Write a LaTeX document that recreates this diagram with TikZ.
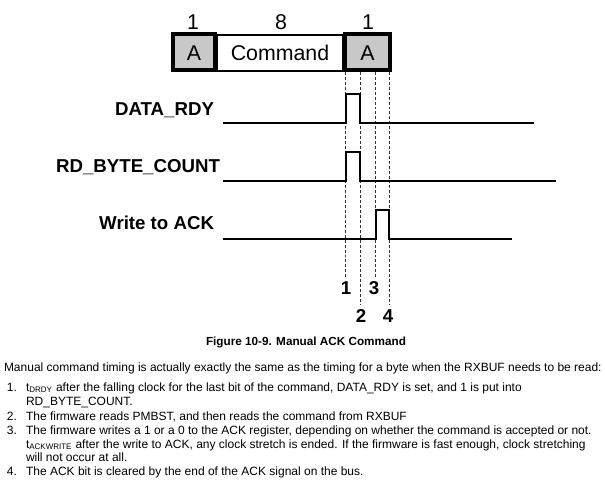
\documentclass[tikz,border=0pt]{standalone}
\usepackage{fontspec}
\setmainfont{Liberation Sans}
\begin{document}
\begin{tikzpicture}[x=0.75pt,y=-0.75pt,
  every node/.style={inner sep=0pt,outer sep=0pt},
  thickbox/.style={draw=black,line width=3pt,fill=boxgray},
  thinbox/.style={draw=black,line width=0.8pt,fill=white},
  boxtext/.style={font=\fontsize{16}{18}\selectfont},
  sig/.style={draw=black,line width=1.5pt},
  guide/.style={draw=black!80,line width=0.6pt,dash pattern=on 2.2pt off 1.5pt},
  siglabel/.style={font=\fontsize{14}{16}\selectfont\bfseries,anchor=base east},
  marklabel/.style={font=\fontsize{14}{16}\selectfont\bfseries,anchor=base},
  caption/.style={font=\fontsize{8.8}{10}\selectfont\bfseries,anchor=base},
  body/.style={font=\fontsize{9}{11}\selectfont,anchor=base west}]
\definecolor{boxgray}{RGB}{200,200,200}
\useasboundingbox (0,0) rectangle (605,480);
% frame boxes
\draw[thinbox] (217,35) rectangle (343,71);
\node[boxtext] (cmd) at (280,53) {Command};
\draw[thickbox] (173,34) rectangle (215,70);
\node[boxtext] (aL) at (194,53) {A};
\draw[thickbox] (345,34) rectangle (390,70);
\node[boxtext] (aR) at (367.5,53) {A};
\node[boxtext,anchor=base] (n1) at (193,29) {1};
\node[boxtext,anchor=base] (n8) at (281,29) {8};
\node[boxtext,anchor=base] (n1b) at (368,29) {1};
% guide coordinates
\coordinate (g1t) at (345.7,72); \coordinate (g1b) at (345.7,277);
\coordinate (g2t) at (360.3,72); \coordinate (g2b) at (360.3,305);
\coordinate (g3t) at (375.7,72); \coordinate (g3b) at (375.7,277);
\coordinate (g4t) at (389,72);   \coordinate (g4b) at (389,305);
\draw[guide] (g1t) -- (g1b);
\draw[guide] (g2t) -- (g2b);
\draw[guide] (g3t) -- (g3b);
\draw[guide] (g4t) -- (g4b);
\node[marklabel] (m1) at (346,294) {1};
\node[marklabel] (m3) at (374,294) {3};
\node[marklabel] (m2) at (361,322) {2};
\node[marklabel] (m4) at (388,322) {4};
% signals
\node[siglabel] (lDR) at (214,115.7) {DATA\_RDY};
\node[siglabel] (lRB) at (220,172.3) {RD\_BYTE\_COUNT};
\node[siglabel] (lWA) at (214,229.3) {Write to ACK};
\draw[sig,line join=miter] (222.7,122.7) -- (345.7,122.7) -- (345.7,94.3) -- (360.3,94.3) -- (360.3,122.7) -- (534,122.7);
\draw[sig,line join=miter] (222.7,180.7) -- (345.7,180.7) -- (345.7,152.3) -- (360.3,152.3) -- (360.3,180.7) -- (555.7,180.7);
\draw[sig,line join=miter] (222.7,238.7) -- (375.7,238.7) -- (375.7,209.7) -- (389,209.7) -- (389,238.7) -- (512,238.7);
% caption
\node[caption] (cap) at (306,345) {Figure 10-9. Manual ACK Command};
% body text
\node[body] (t0) at (4,371) {Manual command timing is actually exactly the same as the timing for a byte when the RXBUF needs to be read:};
\node[body] (i1) at (7,391) {1.};
\node[body] (t1) at (26,391) {t\textsubscript{DRDY} after the falling clock for the last bit of the command, DATA\_RDY is set, and 1 is put into};
\node[body] (t1b) at (26,405) {RD\_BYTE\_COUNT.};
\node[body] (i2) at (7,420) {2.};
\node[body] (t2) at (26,420) {The firmware reads PMBST, and then reads the command from RXBUF};
\node[body] (i3) at (7,434) {3.};
\node[body] (t3) at (26,434) {The firmware writes a 1 or a 0 to the ACK register, depending on whether the command is accepted or not.};
\node[body] (t3b) at (26,448) {t\textsubscript{ACKWRITE} after the write to ACK, any clock stretch is ended. If the firmware is fast enough, clock stretching};
\node[body] (t3c) at (26,461.5) {will not occur at all.};
\node[body] (i4) at (7,475) {4.};
\node[body] (t4) at (26,475) {The ACK bit is cleared by the end of the ACK signal on the bus.};
\end{tikzpicture}
\end{document}
